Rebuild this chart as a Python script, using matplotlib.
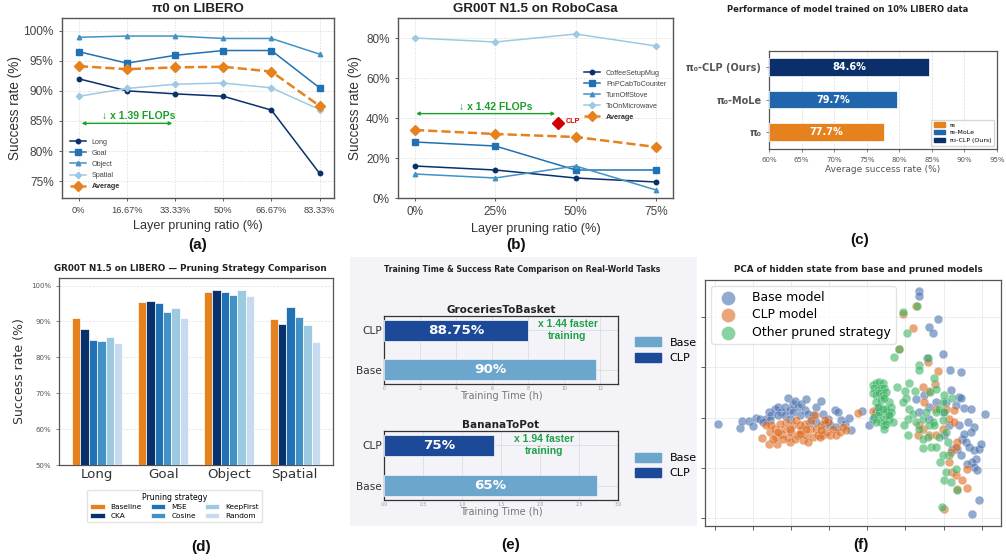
import matplotlib
matplotlib.use("Agg")
import matplotlib.pyplot as plt
import numpy as np
from matplotlib.patches import Rectangle, Patch

# ---------------- data ----------------
# (a) pi0 on LIBERO
a_ratios = ["0%", "16.67%", "33.33%", "50%", "66.67%", "83.33%"]
a_long = [92.0, 90.0, 89.5, 89.1, 86.8, 76.3]
a_goal = [96.5, 94.6, 95.9, 96.7, 96.7, 90.5]
a_object = [98.9, 99.1, 99.1, 98.7, 98.7, 96.1]
a_spatial = [89.1, 90.4, 91.1, 91.3, 90.5, 86.9]
a_average = [94.1, 93.6, 93.9, 94.0, 93.2, 87.5]

# (b) GR00T N1.5 on RoboCasa
b_ratios = ["0%", "25%", "50%", "75%"]
b_coffee = [16, 14, 10, 8]
b_pnp = [28, 26, 14, 14]
b_stove = [12, 10, 16, 4]
b_micro = [80, 78, 82, 76]
b_average = [34, 32, 30.5, 25.5]
b_clp_pos = 1.78
b_clp_val = 37.5

# (c) 10% LIBERO data
c_models = ["π₀", "π₀-MoLe", "π₀-CLP (Ours)"]
c_values = [77.7, 79.7, 84.6]

# (d) pruning strategy comparison
d_suites = ["Long", "Goal", "Object", "Spatial"]
d_strategies = ["Baseline", "CKA", "MSE", "Cosine", "KeepFirst", "Random"]
d_baseline = [91.0, 95.4, 98.3, 90.7]
d_cka = [87.9, 95.7, 98.8, 89.4]
d_mse = [84.8, 95.0, 98.2, 93.9]
d_cosine = [84.5, 92.6, 97.3, 91.2]
d_keepfirst = [85.7, 93.8, 98.8, 89.0]
d_random = [83.9, 90.9, 97.0, 84.4]

# (e) real-world tasks
e_tasks = ["GroceriesToBasket", "BananaToPot"]
e_time_clp = [8.0, 1.41]
e_time_base = [11.8, 2.73]
e_succ_clp = ["88.75%", "75%"]
e_succ_base = ["90%", "65%"]
e_speedup = ["x 1.44 faster\ntraining", "x 1.94 faster\ntraining"]

# (f) PCA of hidden states
base_pc1 = [0.85, 1.50, 1.57, 1.78, 1.90, 2.00, 2.10, 2.30, 2.37, 2.45, 2.55, 2.65, 2.75, 2.85, 2.95,
            3.00, 3.10, 3.15, 3.25, 3.35, 3.45, 3.50, 3.55, 3.70, 3.80, 3.95, 4.00, 4.15, 4.35, 4.45,
            4.55, 4.65, 4.78, 4.83, 4.40, 4.20, 2.65, 2.85, 3.10, 2.40, 2.20, 3.30, 3.00, 3.60, 3.80,
            4.05, 5.18, 5.40, 5.50, 5.60, 5.70,
            6.88, 6.88, 7.45, 7.18, 7.30, 7.12, 7.62, 7.82, 8.15, 6.80, 7.05, 6.90, 7.20, 7.40, 7.60,
            7.70, 7.85, 8.00, 8.10, 8.15, 8.25, 8.45, 8.38, 8.55, 8.45, 8.20, 8.30, 8.40, 8.55, 8.70,
            8.75, 8.60, 8.50, 8.35, 8.55, 8.65, 8.05, 8.15, 7.90, 8.70, 8.50, 7.80, 7.65, 7.20, 8.88,
            8.10, 8.25]
base_pc2 = [-5.05, -5.18, -4.97, -4.97, -5.13, -4.88, -4.92, -4.90, -4.70, -4.80, -4.60, -4.55, -4.70, -4.55, -4.30,
            -4.65, -4.45, -4.37, -4.55, -4.45, -4.65, -4.32, -4.75, -4.80, -4.55, -4.37, -4.75, -4.90, -4.65, -4.70,
            -4.95, -5.05, -4.88, -5.25, -5.15, -5.10, -4.80, -4.80, -4.70, -4.95, -5.00, -4.80, -4.90, -5.00, -5.00,
            -5.05, -4.66, -5.10, -4.90, -4.70, -4.55,
            -1.08, -1.23, -1.92, -2.17, -2.35, -3.08, -2.98, -3.45, -3.52, -4.32, -4.20, -4.70, -4.55, -4.40, -4.70,
            -4.40, -4.05, -4.50, -4.25, -4.30, -4.58, -4.62, -5.00, -5.15, -5.30, -5.50, -5.60, -5.75, -5.85, -5.82,
            -5.65, -6.10, -6.20, -6.25, -6.35, -6.45, -5.80, -6.00, -5.80, -7.35, -7.75, -5.10, -5.40, -4.90, -4.75,
            -5.10, -5.35]

clp_pc1 = [2.18, 2.37, 2.62, 2.40, 2.55, 2.60, 2.75, 2.85, 2.90, 2.95, 3.05, 3.10, 3.20, 3.25, 3.35,
           3.40, 3.45, 3.50, 3.60, 3.65, 3.70, 3.75, 3.80, 3.85, 3.95, 4.00, 4.10, 4.15, 4.20, 4.30,
           4.40, 4.50, 4.60, 4.70, 2.45, 2.70, 3.00, 3.30, 3.55, 2.50, 2.80, 3.15, 3.90, 4.05, 2.28,
           2.65, 3.00, 3.50, 3.95, 3.30, 5.05, 5.50,
           6.80, 6.42, 6.72, 6.28, 7.15, 7.45, 7.02, 7.38, 7.18, 7.05, 6.85, 7.00, 7.40, 7.20, 7.60,
           7.80, 7.95, 8.05, 8.00, 7.85, 7.90, 8.00, 8.05, 8.18, 8.35, 7.65, 8.35, 7.80, 7.40, 6.90,
           7.70, 7.95]
clp_pc2 = [-5.47, -5.65, -5.65, -5.30, -5.20, -5.45, -5.35, -5.20, -5.00, -5.45, -5.30, -5.10, -4.95, -5.40, -5.25,
           -5.55, -5.05, -5.40, -5.20, -4.95, -5.45, -4.80, -5.20, -5.40, -5.10, -5.40, -5.30, -5.00, -5.40, -5.20,
           -5.40, -5.30, -5.15, -5.25, -5.10, -5.05, -5.60, -5.10, -5.60, -5.50, -5.50, -5.50, -5.45, -4.95, -5.10,
           -5.30, -5.20, -5.20, -5.25, -5.35, -4.73, -4.68,
           -1.52, -1.78, -2.18, -2.83, -3.20, -3.48, -3.95, -3.88, -4.08, -4.40, -5.40, -5.20, -4.60, -5.40, -5.20,
           -4.90, -5.00, -5.60, -5.75, -5.90, -6.50, -6.60, -7.00, -6.75, -6.97, -7.60, -6.40, -6.20, -5.40, -5.10,
           -4.60, -4.65]

other_pc1 = [5.50, 5.60, 5.70, 5.80, 5.55, 5.65, 5.75, 5.85, 5.50, 5.60, 5.70, 5.80, 5.90, 6.00, 6.05,
             5.95, 5.90, 5.80, 5.75, 5.85, 5.65, 5.55, 5.70, 5.60, 6.00, 6.05, 5.90, 5.60, 5.75, 5.85,
             6.00, 6.10, 5.80, 5.65, 5.90, 5.85,
             6.83, 6.40, 6.52, 6.28, 6.13, 6.90, 6.90, 7.15, 7.35, 7.22, 7.40, 6.58, 6.22, 6.46, 6.78,
             6.50, 6.40, 6.60, 6.70, 6.55, 6.45, 6.80, 6.90, 7.00, 7.10, 7.20, 7.30, 7.40, 7.50, 7.65,
             7.60, 7.70, 7.50, 7.15, 7.25, 7.00, 7.40, 6.55, 7.75, 7.80, 7.60, 7.52, 7.70, 7.65, 7.85,
             8.00, 8.05, 7.58, 7.00, 7.35, 7.60, 7.90, 7.65]
other_pc2 = [-3.90, -3.85, -3.80, -3.85, -4.00, -4.05, -4.00, -4.00, -4.15, -4.20, -4.15, -4.20, -4.10, -4.40, -4.55,
             -4.70, -4.80, -4.90, -5.00, -5.10, -4.80, -4.85, -4.70, -5.00, -4.90, -4.70, -4.60, -4.40, -4.35, -4.30,
             -4.80, -5.00, -4.60, -4.55, -5.05, -5.20,
             -1.53, -1.72, -2.35, -2.83, -3.05, -3.30, -3.45, -3.10, -3.68, -4.10, -4.02, -3.83, -3.95, -4.08, -4.07,
             -4.30, -4.40, -4.60, -4.75, -4.90, -5.10, -5.00, -5.20, -4.90, -4.70, -5.10, -5.00, -4.70, -4.60, -4.70,
             -4.95, -5.30, -5.45, -5.45, -5.75, -5.78, -5.75, -5.40, -5.60, -6.00, -6.00, -6.20, -6.50, -6.75, -6.80,
             -6.40, -7.05, -7.55, -5.50, -5.10, -4.40, -4.30, -4.20]

# ---------------- helpers ----------------
W, H = 1006, 560


def box(l, t, r, b):
    return [l / W, 1 - b / H, (r - l) / W, (b - t) / H]


LS = ['Liberation Sans', 'DejaVu Sans']
ORANGE = '#e6821e'
NAVY = '#08306b'
BLUE = '#2171b5'
MID = '#4292c6'
LIGHT = '#9ecae1'
PALE = '#c6dbef'
GREEN = '#1a9e2a'

fig = plt.figure(figsize=(10.06, 5.6), dpi=100)

# background of panel (e)
fig.patches.append(Rectangle((350 / W, 1 - 526 / H), (697 - 350) / W, (526 - 257) / H,
                             transform=fig.transFigure, facecolor='#f3f3f8', edgecolor='none', zorder=-5))


def style_line_axes(ax):
    for s in ax.spines.values():
        s.set_color('#555555')
        s.set_linewidth(1.0)
    ax.grid(True, color='#d8d8d8', linestyle=':', linewidth=0.7)
    ax.set_axisbelow(True)
    ax.tick_params(colors='#444444', length=2.5, width=0.6)


# ---------------- (a) ----------------
ax = fig.add_axes(box(62, 18, 334, 198))
xa = np.arange(len(a_ratios))
ax.plot(xa, a_long, '-o', color=NAVY, ms=3.2, lw=1.1, label='Long')
ax.plot(xa, a_goal, '-s', color=BLUE, ms=3.8, lw=1.1, label='Goal')
ax.plot(xa, a_object, '-^', color=MID, ms=3.2, lw=1.1, label='Object')
ax.plot(xa, a_spatial, '-D', color=LIGHT, ms=3.2, lw=1.1, label='Spatial')
ax.plot(xa, a_average, '--D', color=ORANGE, ms=5.0, lw=1.8, label='Average')
ax.set_xlim(-0.35, 5.3)
ax.set_ylim(72.2, 102.1)
ax.set_xticks(xa)
ax.set_xticklabels(a_ratios, fontsize=6.7, family=LS)
ax.set_yticks([75, 80, 85, 90, 95, 100])
ax.set_yticklabels([f"{v}%" for v in [75, 80, 85, 90, 95, 100]], fontsize=8.6, family=LS)
ax.set_xlabel('Layer pruning ratio (%)', fontsize=9.2, family=LS, color='#333333', labelpad=3)
ax.set_ylabel('Success rate (%)', fontsize=9.8, family=LS, color='#333333', labelpad=1)
style_line_axes(ax)
ax.annotate('', xy=(0, 84.6), xytext=(2.0, 84.6),
            arrowprops=dict(arrowstyle='<->', color=GREEN, lw=1.0, mutation_scale=5))
ax.text(1.24, 85.8, '↓ x 1.39 FLOPs', color=GREEN, fontsize=7.5, fontweight='bold',
        family=LS, ha='center', va='center')
leg = ax.legend(loc='lower left', bbox_to_anchor=(0.0, 0.0), frameon=False,
                prop={'family': LS, 'size': 5.2}, handlelength=2.2, labelspacing=0.55,
                borderpad=0.6)
for t in leg.get_texts():
    t.set_color('#444444')
leg.get_texts()[-1].set_fontweight('bold')
leg.get_texts()[-1].set_color('#333333')
fig.text(198 / W, 1 - 8.5 / H, 'π0 on LIBERO', ha='center', va='center', fontsize=9.6,
         fontweight='bold', family=LS, color='#222222')

# ---------------- (b) ----------------
ax = fig.add_axes(box(398, 18, 673, 198))
xb = np.arange(len(b_ratios))
ax.plot(xb, b_coffee, '-o', color=NAVY, ms=3.2, lw=1.1, label='CoffeeSetupMug')
ax.plot(xb, b_pnp, '-s', color=BLUE, ms=3.8, lw=1.1, label='PnPCabToCounter')
ax.plot(xb, b_stove, '-^', color=MID, ms=3.2, lw=1.1, label='TurnOffStove')
ax.plot(xb, b_micro, '-D', color=LIGHT, ms=3.2, lw=1.1, label='ToOnMicrowave')
ax.plot(xb, b_average, '--D', color=ORANGE, ms=5.0, lw=1.8, label='Average')
ax.plot([b_clp_pos], [b_clp_val], 'D', color='#d00000', ms=6.5, zorder=5)
ax.text(b_clp_pos + 0.09, b_clp_val + 0.6, 'CLP', color='#d00000', fontsize=5.2,
        fontweight='bold', family=LS, ha='left', va='center')
ax.set_xlim(-0.21, 3.21)
ax.set_ylim(0, 90)
ax.set_xticks(xb)
ax.set_xticklabels(b_ratios, fontsize=8.5, family=LS)
ax.set_yticks([0, 20, 40, 60, 80])
ax.set_yticklabels([f"{v}%" for v in [0, 20, 40, 60, 80]], fontsize=8.5, family=LS)
ax.set_xlabel('Layer pruning ratio (%)', fontsize=9.2, family=LS, color='#333333', labelpad=3)
ax.set_ylabel('Success rate (%)', fontsize=9.8, family=LS, color='#333333', labelpad=3)
style_line_axes(ax)
ax.annotate('', xy=(-0.02, 42.2), xytext=(1.78, 42.2),
            arrowprops=dict(arrowstyle='<->', color=GREEN, lw=1.0, mutation_scale=5))
ax.text(1.0, 45.6, '↓ x 1.42 FLOPs', color=GREEN, fontsize=7.5, fontweight='bold',
        family=LS, ha='center', va='center')
leg = ax.legend(loc='center right', bbox_to_anchor=(1.0, 0.57), frameon=False,
                prop={'family': LS, 'size': 5.2}, handlelength=2.2, labelspacing=0.55)
for t in leg.get_texts():
    t.set_color('#444444')
leg.get_texts()[-1].set_fontweight('bold')
leg.get_texts()[-1].set_color('#333333')
fig.text(535 / W, 1 - 8.5 / H, 'GR00T N1.5 on RoboCasa', ha='center', va='center', fontsize=9.6,
         fontweight='bold', family=LS, color='#222222')

# ---------------- (c) ----------------
ax = fig.add_axes(box(769, 51, 997, 149))
c_colors = [ORANGE, '#2166ac', '#0b2f6b']
yc = np.arange(len(c_models))
ax.barh(yc, [v - 60 for v in c_values], left=60, height=0.54, color=c_colors,
        edgecolor='white', linewidth=0.5, zorder=3)
for yi, v in zip(yc, c_values):
    ax.text((60 + v) / 2, yi, f"{v}%", color='white', fontsize=7, fontweight='bold',
            ha='center', va='center', zorder=4)
ax.set_xlim(60, 95)
ax.set_ylim(-0.52, 2.49)
ax.set_xticks(range(60, 96, 5))
ax.set_xticklabels([f"{v}%" for v in range(60, 96, 5)], fontsize=5, color='#555555')
ax.set_yticks(yc)
ax.set_yticklabels(c_models, fontsize=7, fontweight='bold', color='#222222')
ax.set_xlabel('Average success rate (%)', fontsize=6.5, color='#555555', labelpad=2)
ax.grid(True, axis='x', color='#dddddd', linestyle='--', linewidth=0.5)
ax.set_axisbelow(True)
for s in ax.spines.values():
    s.set_color('#555555')
    s.set_linewidth(0.9)
ax.tick_params(length=2, width=0.5, colors='#555555')
ax.legend([Patch(color=c) for c in c_colors], c_models, loc='lower right', fontsize=4.5,
          frameon=True, edgecolor='#cccccc', fancybox=False, handlelength=1.8, labelspacing=0.4)
fig.text(848 / W, 1 - 9.5 / H, 'Performance of model trained on 10% LIBERO data', ha='center',
         va='center', fontsize=6.0, fontweight='bold', color='#222222')

# ---------------- (d) ----------------
ax = fig.add_axes(box(59, 278, 333, 465))
d_values = [d_baseline, d_cka, d_mse, d_cosine, d_keepfirst, d_random]
d_colors = [ORANGE, NAVY, BLUE, MID, LIGHT, PALE]
xd = np.arange(len(d_suites))
bw = 0.127
for i, (vals, col, name) in enumerate(zip(d_values, d_colors, d_strategies)):
    ax.bar(xd + (i - 2.5) * bw, [v - 50 for v in vals], bottom=50, width=bw, color=col,
           edgecolor='white', linewidth=0.5, label=name, zorder=3)
ax.set_xlim(-0.58, 3.58)
ax.set_ylim(50, 102.1)
ax.set_xticks(xd)
ax.set_xticklabels(d_suites, fontsize=9.6, color='#333333')
ax.set_yticks(range(50, 101, 10))
ax.set_yticklabels([f"{v}%" for v in range(50, 101, 10)], fontsize=5, color='#555555')
ax.set_ylabel('Success rate (%)', fontsize=9, color='#333333', labelpad=4)
ax.grid(True, axis='y', color='#e0e0e0', linestyle='--', linewidth=0.5)
ax.set_axisbelow(True)
for s in ax.spines.values():
    s.set_color('#555555')
    s.set_linewidth(0.9)
ax.tick_params(axis='y', length=2, width=0.5, colors='#555555')
ax.tick_params(axis='x', length=0, pad=2)
ax.legend(loc='upper center', bbox_to_anchor=(174.5 / W, 1 - 486 / H),
          bbox_transform=fig.transFigure, ncol=3, fontsize=5.3, title='Pruning strategy',
          title_fontsize=5.6, frameon=True, edgecolor='#dddddd', fancybox=True,
          handlelength=2.0, columnspacing=1.2, labelspacing=0.35, borderpad=0.4)
fig.text(190 / W, 1 - 268 / H, 'GR00T N1.5 on LIBERO — Pruning Strategy Comparison', ha='center',
         va='center', fontsize=6.3, fontweight='bold', color='#222222')

# ---------------- (e) ----------------
e_boxes = [box(384, 316, 618, 384), box(384, 431, 618, 500)]
e_xlims = [(0, 13), (0, 3.0)]
e_xticks = [list(range(0, 13, 2)), [0.0, 0.5, 1.0, 1.5, 2.0, 2.5, 3.0]]
e_xticklabels = [[str(v) for v in range(0, 13, 2)], ['0.0', '0.5', '1.0', '1.5', '2.0', '2.5', '3.0']]
e_text_x = [10.2, 2.05]
E_BASE = '#6ca6cd'
E_CLP = '#1c4a99'
for k in range(2):
    ax = fig.add_axes(e_boxes[k])
    ax.set_facecolor('#f3f3f8')
    ax.barh([1, 0], [e_time_clp[k], e_time_base[k]], height=0.52, color=[E_CLP, E_BASE],
            edgecolor='#e8eef8', linewidth=0.6, zorder=3)
    ax.text(e_time_clp[k] / 2, 1, e_succ_clp[k], color='white', fontsize=9.7, fontweight='bold',
            ha='center', va='center', zorder=4)
    ax.text(e_time_base[k] / 2, 0, e_succ_base[k], color='white', fontsize=9.7, fontweight='bold',
            ha='center', va='center', zorder=4)
    ax.text(e_text_x[k], 1, e_speedup[k], color='#1fa14a', fontsize=7.5, fontweight='bold',
            family=LS, ha='center', va='center', linespacing=1.25)
    ax.set_xlim(*e_xlims[k])
    ax.set_ylim(-0.36, 1.36)
    ax.set_xticks(e_xticks[k])
    ax.set_xticklabels(e_xticklabels[k], fontsize=3.3, color='#999999')
    ax.set_yticks([1, 0])
    ax.set_yticklabels(['CLP', 'Base'], fontsize=7.7, color='#333333')
    ax.set_xlabel('Training Time (h)', fontsize=7, color='#777777', labelpad=0)
    ax.grid(True, color='#dcdce2', linestyle='-', linewidth=0.6)
    ax.set_axisbelow(True)
    for s in ax.spines.values():
        s.set_color('#333333')
        s.set_linewidth(0.9)
    ax.tick_params(length=0, pad=1.5)
    ax.set_title(e_tasks[k], fontsize=7.5, fontweight='bold', color='#222222', pad=2.5)
    ax.legend([Patch(color=E_BASE), Patch(color=E_CLP)], ['Base', 'CLP'], loc='center left',
              bbox_to_anchor=(1.03, 0.5), frameon=False, fontsize=8, handlelength=2.3,
              handleheight=0.9, labelspacing=0.45)
fig.text(522 / W, 1 - 269 / H, 'Training Time & Success Rate Comparison on Real-World Tasks',
         ha='center', va='center', fontsize=5.6, fontweight='bold', color='#222222')

# ---------------- (f) ----------------
ax = fig.add_axes(box(705, 280, 1001, 526))
sc_kw = dict(s=40, alpha=0.6, edgecolors='white', linewidths=0.3)
ax.scatter(base_pc1, base_pc2, color='#4c72b0', label='Base model', **sc_kw)
ax.scatter(clp_pc1, clp_pc2, color='#dd6a20', label='CLP model', **sc_kw)
ax.scatter(other_pc1, other_pc2, color='#3cb464', label='Other pruned strategy', **sc_kw)
ax.set_xlim(0.45, 9.36)
ax.set_ylim(-8.12, -0.75)
ax.set_xticks([0.75, 1.90, 3.05, 4.18, 5.33, 6.48, 7.63, 8.78])
ax.set_yticks([-7.87, -6.37, -4.88, -3.37, -1.85])
ax.set_xticklabels([])
ax.set_yticklabels([])
ax.grid(True, color='#eaeaea', linewidth=0.6)
ax.set_axisbelow(True)
for s in ax.spines.values():
    s.set_color('#555555')
    s.set_linewidth(0.9)
ax.tick_params(length=3, width=0.6, colors='#444444')
ax.legend(loc='upper left', fontsize=8.9, markerscale=1.6, frameon=True, edgecolor='#dddddd',
          handletextpad=0.9, labelspacing=0.35, borderpad=0.4)
fig.text(858 / W, 1 - 269 / H, 'PCA of hidden state from base and pruned models', ha='center',
         va='center', fontsize=6.3, fontweight='bold', color='#222222')

# ---------------- panel labels ----------------
for lab, px, py in [('(a)', 198, 245), ('(b)', 516, 245), ('(c)', 860, 240),
                    ('(d)', 201, 547), ('(e)', 511, 545), ('(f)', 861, 545)]:
    fig.text(px / W, 1 - py / H, lab, ha='center', va='center', fontsize=11,
             fontweight='bold', family=LS, color='#111111')

fig.savefig('out.png', dpi=100)
